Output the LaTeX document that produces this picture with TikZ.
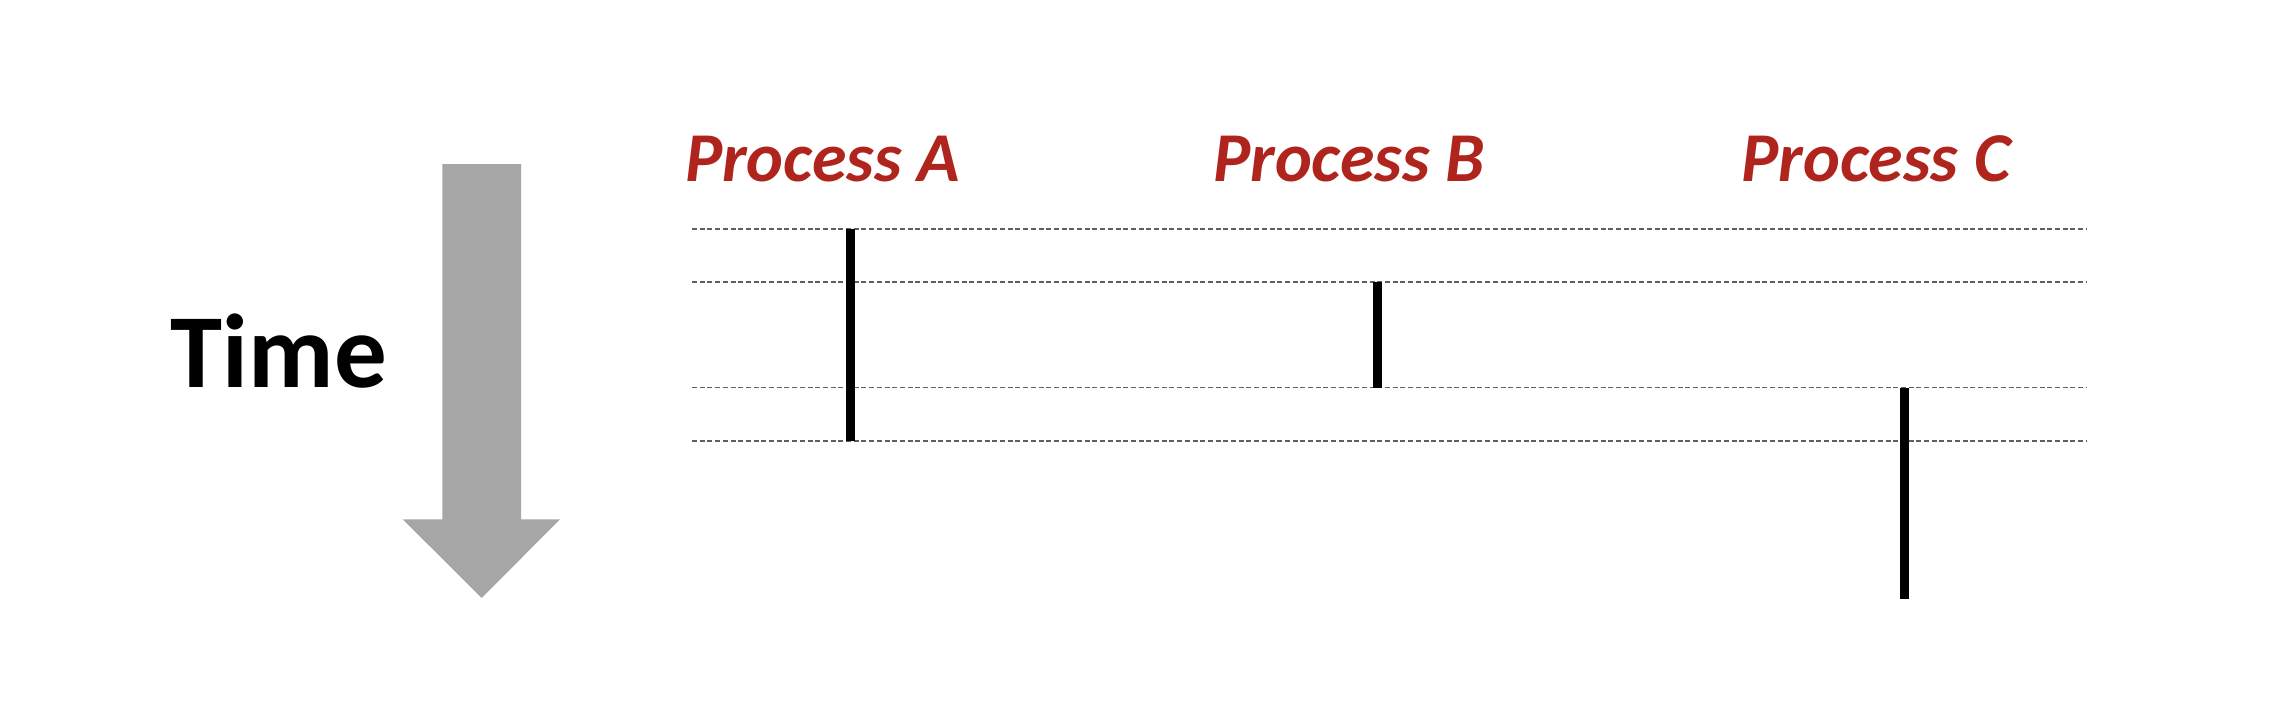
\documentclass[tikz,border=0pt]{standalone}
\usepackage{fontspec}
\setmainfont{Carlito}
\definecolor{procred}{RGB}{176,36,30}
\definecolor{arrowgray}{RGB}{166,166,166}
\definecolor{dashgray}{RGB}{95,95,95}
\begin{document}
\begin{tikzpicture}[x=1pt,y=-1pt,
  proclabel/.style={anchor=base, inner sep=0pt, text=procred, font=\fontsize{70}{80}\selectfont\bfseries\itshape},
  timelabel/.style={anchor=base, inner sep=0pt, text=black, font=\fontsize{105}{120}\selectfont\bfseries},
  tick/.style={dash pattern=on 5pt off 2.7pt, draw=dashgray, line width=1.7pt},
  runbar/.style={line width=9pt, draw=black, line cap=butt}]
\useasboundingbox (0,0) rectangle (2281,701);
% time arrow
\fill[arrowgray] (442.3,164) -- (521,164) -- (521,519.3) -- (560,519.3) -- (481.7,598)
  -- (402.7,519.3) -- (442.3,519.3) -- cycle;
\node[timelabel] (time) at (279,387) {Time};
% process labels
\node[proclabel] (pA) at (822.5,181) {Process A};
\node[proclabel] (pB) at (1349,181) {Process B};
\node[proclabel] (pC) at (1876,181) {Process C};
% dashed time lines
\foreach \i/\yy in {0/229.3,1/282.3,3/387.6,4/440.7}{
  \coordinate (l\i) at (692,\yy);
  \coordinate (r\i) at (2087,\yy);
  \draw[tick] (l\i) -- (r\i);
}
% running intervals
\coordinate (a0) at (850.5,229.3);
\coordinate (a1) at (850.5,440.7);
\coordinate (b0) at (1377,282.3);
\coordinate (b1) at (1377,387.6);
\coordinate (c0) at (1904,387.6);
\coordinate (c1) at (1904,599.2);
\draw[runbar] (a0) -- (a1);
\draw[runbar] (b0) -- (b1);
\draw[runbar] (c0) -- (c1);
\end{tikzpicture}
\end{document}
